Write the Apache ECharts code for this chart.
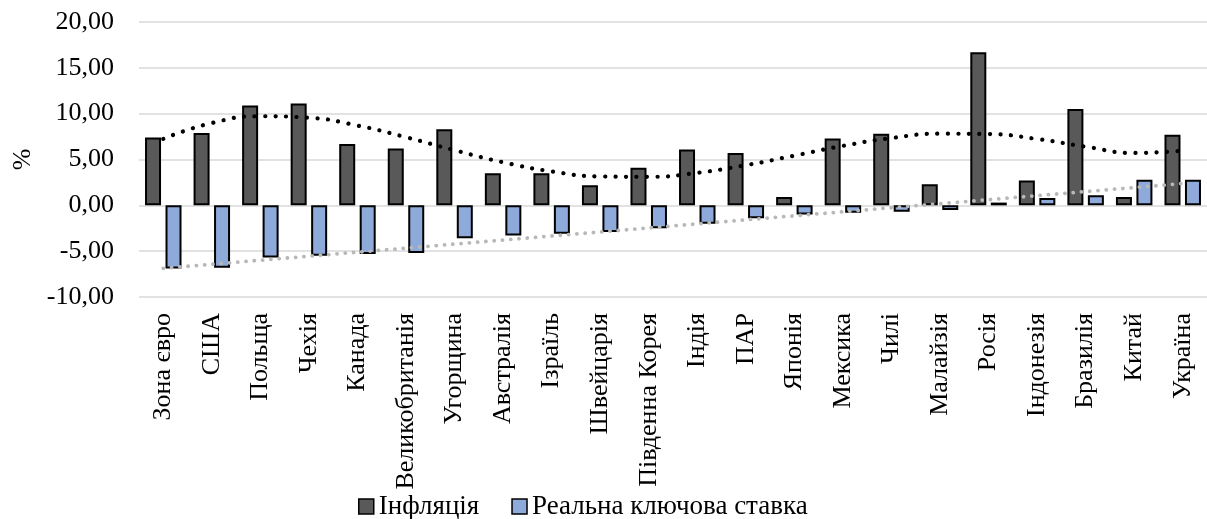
<!DOCTYPE html>
<html>
<head>
<meta charset="utf-8">
<script src="https://cdn.jsdelivr.net/npm/echarts@6/dist/echarts.min.js"></script>
<style>
  html, body { margin: 0; padding: 0; background: #fff; }
  #chart { width: 1207px; height: 519px; }
</style>
</head>
<body>
<div id="chart"></div>
<script>
// Countries / regions on the category axis
const countries = ['Зона євро', 'США', 'Польща', 'Чехія', 'Канада', 'Великобританія', 'Угорщина',
  'Австралія', 'Ізраїль', 'Швейцарія', 'Південна Корея', 'Індія', 'ПАР', 'Японія', 'Мексика',
  'Чилі', 'Малайзія', 'Росія', 'Індонезія', 'Бразилія', 'Китай', 'Україна'];

// Inflation, %
const inflation = [7.4, 7.9, 10.9, 11.1, 6.7, 6.2, 8.3, 3.5, 3.5, 2.2, 4.1, 6.1, 5.7, 0.9,
  7.3, 7.8, 2.3, 16.7, 2.7, 10.5, 0.9, 7.7];

// Real key policy rate, %
const realRate = [-6.9, -6.8, -5.7, -5.5, -5.3, -5.2, -3.6, -3.3, -3.1, -2.9, -2.5, -2.0, -1.4,
  -1.0, -0.8, -0.7, -0.5, 0.3, 0.8, 1.1, 2.8, 2.8];

// Value axis ticks
const yTicks = { min: -10, max: 20, step: 5 };

const seriesNames = ['Інфляція', 'Реальна ключова ставка'];

// Least-squares polynomial trendline evaluated at each category
function polyTrend(ys, degree) {
  const n = ys.length;
  const half = (n - 1) / 2;
  const xs = ys.map((_, i) => (i - half) / half);
  const m = degree + 1;
  const A = [];
  for (let r = 0; r < m; r++) {
    const row = [];
    for (let c = 0; c < m; c++) {
      row.push(xs.reduce((s, x) => s + Math.pow(x, r + c), 0));
    }
    row.push(xs.reduce((s, x, i) => s + Math.pow(x, r) * ys[i], 0));
    A.push(row);
  }
  for (let col = 0; col < m; col++) {
    let piv = col;
    for (let r = col + 1; r < m; r++) if (Math.abs(A[r][col]) > Math.abs(A[piv][col])) piv = r;
    [A[col], A[piv]] = [A[piv], A[col]];
    for (let r = 0; r < m; r++) {
      if (r === col) continue;
      const f = A[r][col] / A[col][col];
      for (let c = col; c <= m; c++) A[r][c] -= f * A[col][c];
    }
  }
  const coef = A.map((row, i) => row[m] / row[i]);
  return xs.map(x => coef.reduce((s, c, k) => s + c * Math.pow(x, k), 0));
}

const inflationTrend = polyTrend(inflation, 6);
const realRateTrend = polyTrend(realRate, 1);

const FONT = '"Liberation Serif", "Times New Roman", serif';
const fmt = v => v.toFixed(2).replace('.', ',');

const chart = echarts.init(document.getElementById('chart'), null, { renderer: 'canvas' });
chart.setOption({
  animation: false,
  backgroundColor: '#ffffff',
  textStyle: { fontFamily: FONT },
  grid: { left: 139, top: 22, width: 1070, height: 275, containLabel: false },
  legend: {
    data: seriesNames,
    icon: 'rect',
    left: 353,
    top: 488,
    itemWidth: 15,
    itemHeight: 15,
    itemGap: 32,
    itemStyle: { borderColor: '#000', borderWidth: 1.5 },
    textStyle: { fontFamily: FONT, fontSize: 27, color: '#000' }
  },
  xAxis: {
    type: 'category',
    data: countries,
    axisLine: { show: false, onZero: false },
    axisTick: { show: false },
    axisLabel: {
      rotate: 90,
      interval: 0,
      margin: 16,
      fontFamily: FONT,
      fontSize: 26,
      color: '#000'
    }
  },
  yAxis: {
    type: 'value',
    min: yTicks.min,
    max: yTicks.max,
    interval: yTicks.step,
    name: '%',
    nameLocation: 'middle',
    nameRotate: 90,
    nameGap: 92,
    nameTextStyle: { fontFamily: FONT, fontSize: 26, color: '#000' },
    axisLine: { show: false },
    axisTick: { show: false },
    splitLine: { lineStyle: { color: '#d9d9d9', width: 1.5 } },
    axisLabel: {
      formatter: fmt,
      margin: 25,
      fontFamily: FONT,
      fontSize: 26,
      color: '#000'
    }
  },
  series: [
    {
      name: seriesNames[0],
      type: 'bar',
      data: inflation,
      barWidth: 16,
      barGap: '28%',
      itemStyle: { color: '#595959', borderColor: '#000', borderWidth: 2 }
    },
    {
      name: seriesNames[1],
      type: 'bar',
      data: realRate,
      barWidth: 16,
      barGap: '28%',
      itemStyle: { color: '#8eaadb', borderColor: '#000', borderWidth: 2 }
    },
    {
      name: 'Тренд інфляції',
      type: 'line',
      data: inflationTrend,
      smooth: true,
      symbol: 'none',
      z: 5,
      lineStyle: { color: '#000', width: 4.2, type: [0.1, 10.4], cap: 'round' }
    },
    {
      name: 'Тренд ставки',
      type: 'line',
      data: realRateTrend,
      symbol: 'none',
      z: 5,
      lineStyle: { color: '#b8b8b8', width: 3.8, type: [0.1, 8.2], cap: 'round' }
    }
  ]
});
</script>
</body>
</html>
